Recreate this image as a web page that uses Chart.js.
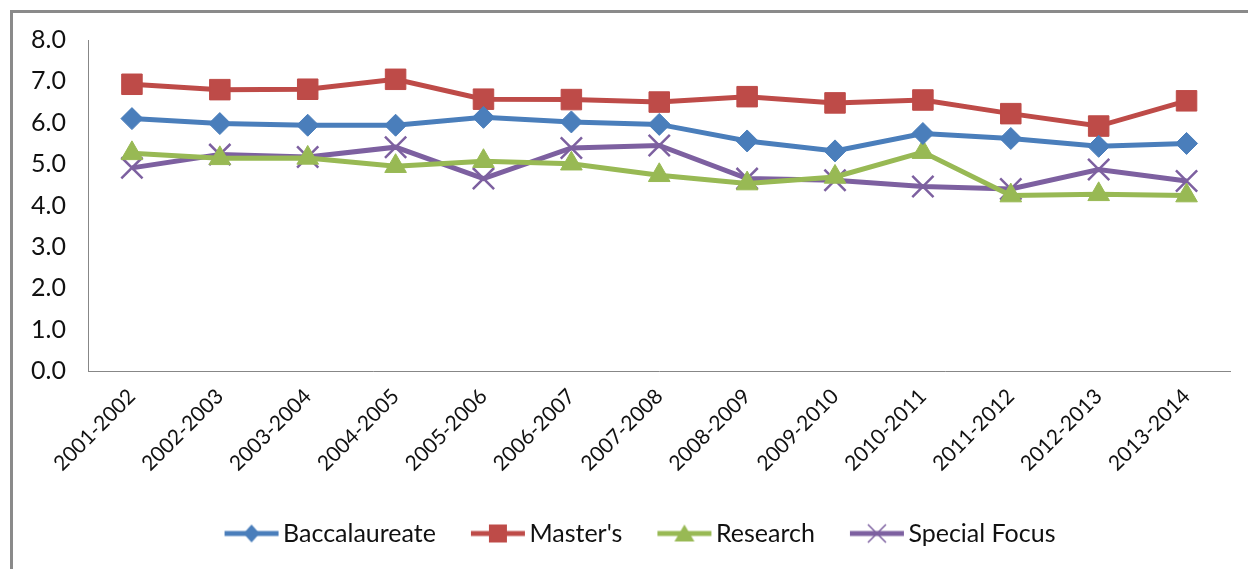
<!DOCTYPE html>
<html>
<head>
<meta charset="utf-8">
<script src="https://cdn.jsdelivr.net/npm/chart.js@4/dist/chart.umd.min.js"></script>
<style>
  html, body { margin: 0; padding: 0; background: #fff; width: 1248px; height: 569px; overflow: hidden; }
  .frame {
    position: absolute; left: 10px; top: 10px; width: 1400px; height: 700px;
    border-top: 3px solid #8a8a8a; border-left: 3px solid #8a8a8a;
  }
  #chart { position: absolute; left: 0; top: 0; }
</style>
</head>
<body>
<div class="frame"></div>
<canvas id="chart" width="1248" height="569"></canvas>
<script>
const years = [
  "2001-2002", "2002-2003", "2003-2004", "2004-2005", "2005-2006", "2006-2007",
  "2007-2008", "2008-2009", "2009-2010", "2010-2011", "2011-2012", "2012-2013", "2013-2014",
];
const baccalaureate = [6.10, 5.98, 5.94, 5.94, 6.13, 6.02, 5.96, 5.56, 5.32, 5.74, 5.62, 5.43, 5.50];
const masters = [6.93, 6.80, 6.81, 7.05, 6.57, 6.56, 6.50, 6.63, 6.48, 6.55, 6.22, 5.92, 6.53];
const research = [5.26, 5.14, 5.15, 4.95, 5.07, 5.01, 4.73, 4.53, 4.69, 5.29, 4.24, 4.27, 4.24];
const specialFocus = [4.91, 5.23, 5.17, 5.41, 4.65, 5.39, 5.45, 4.65, 4.61, 4.46, 4.40, 4.87, 4.59];
const yTicks = [0, 1, 2, 3, 4, 5, 6, 7, 8];

const FONT = "Lato";
const TEXT = "#111";
const AXIS = "#878787";

// line + marker picture for the legend; the left 9px stay empty so the
// visible part sits flush against the label text
function legendIcon(color, style) {
  const c = document.createElement("canvas");
  c.width = 64;
  c.height = 26;
  const ctx = c.getContext("2d");
  const x0 = 9, x1 = 63, cx = 36, cy = 13;
  ctx.strokeStyle = color;
  ctx.fillStyle = color;
  ctx.lineWidth = 5;
  ctx.beginPath();
  ctx.moveTo(x0, cy);
  ctx.lineTo(x1, cy);
  ctx.stroke();
  ctx.beginPath();
  if (style === "diamond") {
    ctx.moveTo(cx, cy - 9); ctx.lineTo(cx + 8, cy); ctx.lineTo(cx, cy + 9); ctx.lineTo(cx - 8, cy);
    ctx.closePath(); ctx.fill();
  } else if (style === "square") {
    ctx.fillRect(cx - 9, cy - 9, 18, 18);
  } else if (style === "triangle") {
    ctx.moveTo(cx, cy - 9); ctx.lineTo(cx + 10, cy + 8); ctx.lineTo(cx - 10, cy + 8);
    ctx.closePath(); ctx.fill();
  } else {
    ctx.lineWidth = 1.5;
    ctx.moveTo(cx - 9, cy - 9); ctx.lineTo(cx + 9, cy + 9);
    ctx.moveTo(cx + 9, cy - 9); ctx.lineTo(cx - 9, cy + 9);
    ctx.stroke();
  }
  return c;
}

const series = [
  { label: "Baccalaureate", data: baccalaureate, color: "#4a7ebb", style: "rectRot", radius: 11, icon: "diamond" },
  { label: "Master's", data: masters, color: "#be4b48", style: "rect", radius: 14.5, icon: "square" },
  { label: "Research", data: research, color: "#98b954", style: "triangle", radius: 12.5, icon: "triangle" },
  { label: "Special Focus", data: specialFocus, color: "#7d60a0", style: "crossRot", radius: 15, icon: "cross" },
];

// nudge the legend so it is centred under the plot like the original
const legendShift = {
  id: "legendShift",
  afterLayout(chart) {
    chart.legend.left += 24;
    chart.legend.right += 24;
  },
};

new Chart(document.getElementById("chart"), {
  type: "line",
  data: {
    labels: years,
    datasets: series.map((s) => ({
      label: s.label,
      data: s.data,
      borderColor: s.color,
      backgroundColor: s.color,
      borderWidth: 5,
      tension: 0,
      pointStyle: s.style,
      pointRadius: s.radius,
      pointHoverRadius: s.radius,
      pointBackgroundColor: s.color,
      pointBorderColor: s.color,
      pointBorderWidth: s.style === "crossRot" ? 2.5 : 1,
      legendIcon: legendIcon(s.color, s.icon),
    })),
  },
  plugins: [legendShift],
  options: {
    responsive: false,
    animation: false,
    events: [],
    layout: { padding: { top: 40, right: 16, bottom: 13, left: 0 } },
    scales: {
      x: {
        offset: true,
        grid: { display: false, drawTicks: false },
        border: { display: true, color: AXIS, width: 1 },
        ticks: {
          color: TEXT,
          font: { family: FONT, size: 21 },
          minRotation: 45,
          maxRotation: 45,
          padding: 13,
          autoSkip: false,
        },
        afterFit: (scale) => { scale.height = 115; },
      },
      y: {
        min: 0,
        max: 8,
        afterBuildTicks: (scale) => { scale.ticks = yTicks.map((v) => ({ value: v })); },
        grid: { display: false, drawTicks: false },
        border: { display: true, color: AXIS, width: 1 },
        ticks: {
          color: TEXT,
          font: { family: FONT, size: 25 },
          padding: 22,
          callback: (v) => v.toFixed(1),
        },
        afterFit: (scale) => { scale.width = 88; },
      },
    },
    plugins: {
      tooltip: { enabled: false },
      legend: {
        position: "bottom",
        labels: {
          color: TEXT,
          font: { family: FONT, size: 25 },
          usePointStyle: true,
          pointStyleWidth: 46,
          padding: 35,
          generateLabels: (chart) =>
            chart.data.datasets.map((ds, i) => ({
              text: ds.label,
              pointStyle: ds.legendIcon,
              fillStyle: ds.borderColor,
              strokeStyle: ds.borderColor,
              fontColor: TEXT,
              lineWidth: 0,
              hidden: false,
              datasetIndex: i,
            })),
        },
      },
    },
  },
});
</script>
</body>
</html>
